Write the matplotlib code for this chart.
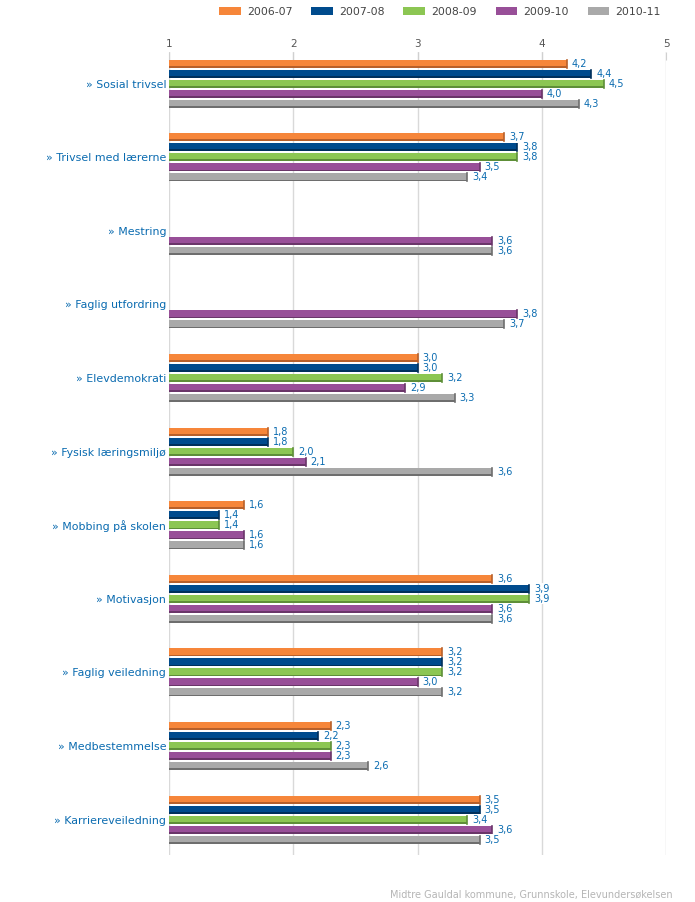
import matplotlib.pyplot as plt
import numpy as np
from matplotlib.patches import Patch

# Kategorier og verdier (None = ingen data)
kategorier = ['Sosial trivsel', 'Trivsel med lærerne', 'Mestring', 'Faglig utfordring',
              'Elevdemokrati', 'Fysisk læringsmiljø', 'Mobbing på skolen', 'Motivasjon',
              'Faglig veiledning', 'Medbestemmelse', 'Karriereveiledning']
aar = ['2006-07', '2007-08', '2008-09', '2009-10', '2010-11']

v2006 = [4.2, 3.7, None, None, 3.0, 1.8, 1.6, 3.6, 3.2, 2.3, 3.5]
v2007 = [4.4, 3.8, None, None, 3.0, 1.8, 1.4, 3.9, 3.2, 2.2, 3.5]
v2008 = [4.5, 3.8, None, None, 3.2, 2.0, 1.4, 3.9, 3.2, 2.3, 3.4]
v2009 = [4.0, 3.5, 3.6, 3.8, 2.9, 2.1, 1.6, 3.6, 3.0, 2.3, 3.6]
v2010 = [4.3, 3.4, 3.6, 3.7, 3.3, 3.6, 1.6, 3.6, 3.2, 2.6, 3.5]
serier = [v2006, v2007, v2008, v2009, v2010]

farger = ['#F6863A', '#004B8D', '#8CC653', '#984F98', '#A9A9A9']
mork = ['#B8602A', '#00305C', '#5E8F38', '#6A3569', '#6E6E6E']
tekstfarge = '#0A6BB0'

fig = plt.figure(figsize=(6.95, 9.02), dpi=100)
ax = fig.add_axes([169/695, 1 - 855/902, 497/695, 803/902])

y = np.arange(len(kategorier))
steg = 0.136
h = 0.109
for i, (serie, f, m) in enumerate(zip(serier, farger, mork)):
    for j, v in enumerate(serie):
        if v is None:
            continue
        yc = y[j] + (i - 2) * steg
        ax.barh(yc, v - 1, left=1, height=h, color=f, zorder=3)
        # mørk skygge nederst og til høyre
        ax.barh(yc + h/2 - 0.012, v - 1, left=1, height=0.024, color=m, zorder=4)
        ax.plot([v, v], [yc - h/2, yc + h/2], color=m, lw=1.2, zorder=4)
        ax.text(v + 0.04, yc, f'{v:.1f}'.replace('.', ','), va='center', ha='left',
                fontsize=7, color=tekstfarge, zorder=5,
                bbox=dict(facecolor='white', edgecolor='none', pad=0.3))

ax.set_xlim(1, 5)
ax.set_ylim(10.48, -0.43)
ax.xaxis.tick_top()
ax.set_xticks([1, 2, 3, 4, 5])
ax.set_xticklabels(['1', '2', '3', '4', '5'], fontsize=7.5, color='#555555')
ax.tick_params(axis='x', length=6, color='#D0D0D0', pad=2, direction='in')
ax.set_yticks(y)
ax.set_yticklabels(['» ' + k for k in kategorier], fontsize=7.9, color=tekstfarge)
ax.tick_params(axis='y', length=0, pad=2)
ax.grid(axis='x', color='#D9D9D9', lw=1, zorder=0)
for s in ax.spines.values():
    s.set_visible(False)

handles = [Patch(facecolor=f, edgecolor='none') for f in farger]
fig.legend(handles, aar, loc='upper center', bbox_to_anchor=(0.633, 1.003), ncol=5,
           frameon=False, fontsize=7.8, handlelength=2.0, handleheight=0.8,
           columnspacing=1.75, handletextpad=0.55, labelcolor='#444444')

fig.text(673/695, 1 - 895/902, 'Midtre Gauldal kommune, Grunnskole, Elevundersøkelsen',
         ha='right', va='center', fontsize=7, color='#B5B5B5')

plt.savefig('out.png', dpi=100)
